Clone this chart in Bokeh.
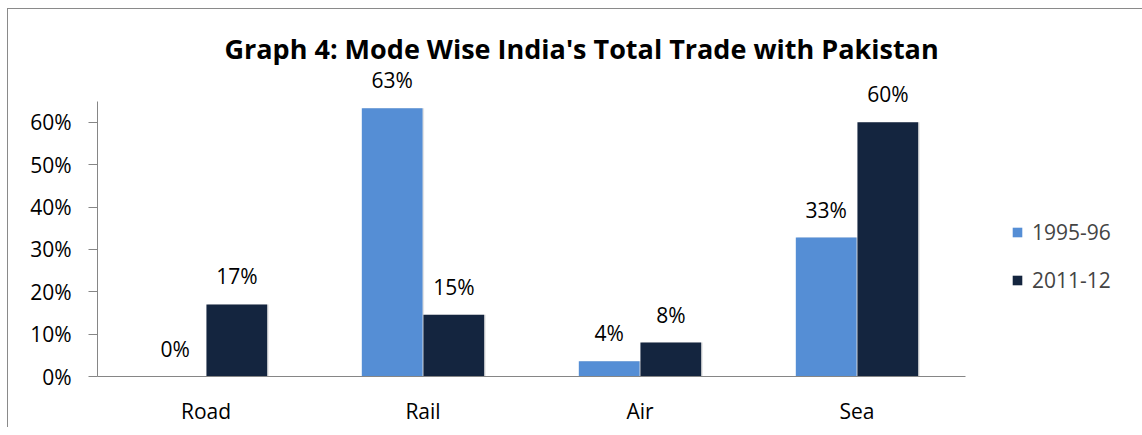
from bokeh.plotting import figure
from bokeh.models import ColumnDataSource, FactorRange, Range1d, LabelSet, Legend, LegendItem, NumeralTickFormatter
from bokeh.core.properties import value
from bokeh.transform import dodge
from bokeh.embed import file_html
from bokeh.resources import INLINE

modes = ["Road", "Rail", "Air", "Sea"]
series_names = ["1995-96", "2011-12"]
share_1995 = [0.0, 0.633, 0.036, 0.328]
share_2011 = [0.17, 0.146, 0.08, 0.60]
yticks = [0, 0.1, 0.2, 0.3, 0.4, 0.5, 0.6]

colors = ["#558ed5", "#14253f"]
FONT = "Open Sans"
FS = "21px"

src = ColumnDataSource(dict(
    mode=modes,
    a=share_1995,
    b=share_2011,
    la=[f"{v*100:.0f}%" for v in share_1995],
    lb=[f"{v*100:.0f}%" for v in share_2011],
))

p = figure(x_range=FactorRange(factors=modes, range_padding=0),
           y_range=Range1d(0, 0.72),
           frame_width=868, frame_height=305,
           output_backend="svg", toolbar_location=None,
           min_border_left=89, min_border_right=20, min_border_top=62, min_border_bottom=50,
           title="Graph 4: Mode Wise India's Total Trade with Pakistan")
p.styles = {"margin-left": "7px", "margin-top": "8px",
            "border-left": "1px solid #8a8a8a", "border-top": "1px solid #8a8a8a"}

p.title.text_font = FONT
p.title.text_font_size = "27px"
p.title.text_font_style = "bold"
p.title.text_color = "#000000"
p.title.align = "left"
p.title.offset = 127

p.outline_line_color = None
p.xgrid.grid_line_color = None
p.ygrid.grid_line_color = None

w = 0.28
sh = 0.007
p.vbar(x=dodge("mode", -0.142 + sh, range=p.x_range), top="a", width=w, source=src,
       fill_color="#c8c8c8", fill_alpha=0.5, line_color=None)
p.vbar(x=dodge("mode", 0.142 + sh, range=p.x_range), top="b", width=w, source=src,
       fill_color="#c8c8c8", fill_alpha=0.5, line_color=None)
r1 = p.vbar(x=dodge("mode", -0.142, range=p.x_range), top="a", width=w, source=src,
            fill_color=colors[0], line_color=None)
r2 = p.vbar(x=dodge("mode", 0.142, range=p.x_range), top="b", width=w, source=src,
            fill_color=colors[1], line_color=None)

for col, lab, off in (("a", "la", -0.142), ("b", "lb", 0.142)):
    ls = LabelSet(x=dodge("mode", off, range=p.x_range), y=col, text=lab, source=src,
                  text_align="center", text_baseline="middle", y_offset=28,
                  text_font=value(FONT), text_font_size=value(FS), text_color="#000000")
    p.add_layout(ls)

for ax in (p.xaxis[0], p.yaxis[0]):
    ax.axis_line_color = "#868686"
    ax.major_tick_line_color = "#868686"
    ax.major_label_text_font = FONT
    ax.major_label_text_font_size = FS
    ax.major_label_text_color = "#000000"
    ax.minor_tick_line_color = None

p.yaxis.ticker = yticks
p.yaxis.bounds = (0, 0.65)
p.yaxis.formatter = NumeralTickFormatter(format="0%")
p.yaxis.major_tick_out = 9
p.yaxis.major_tick_in = 0
p.yaxis.major_label_standoff = 17
p.xaxis.major_tick_line_color = None
p.xaxis.major_label_standoff = 14

legend = Legend(items=[LegendItem(label=series_names[0], renderers=[r1]),
                       LegendItem(label=series_names[1], renderers=[r2])],
                location=(46, 82), orientation="vertical",
                glyph_width=12, glyph_height=12, spacing=20, label_standoff=9,
                label_text_font=FONT, label_text_font_size=FS,
                border_line_color=None, background_fill_alpha=0)
p.add_layout(legend, "right")

open("out.html", "w").write(file_html(p, INLINE))
